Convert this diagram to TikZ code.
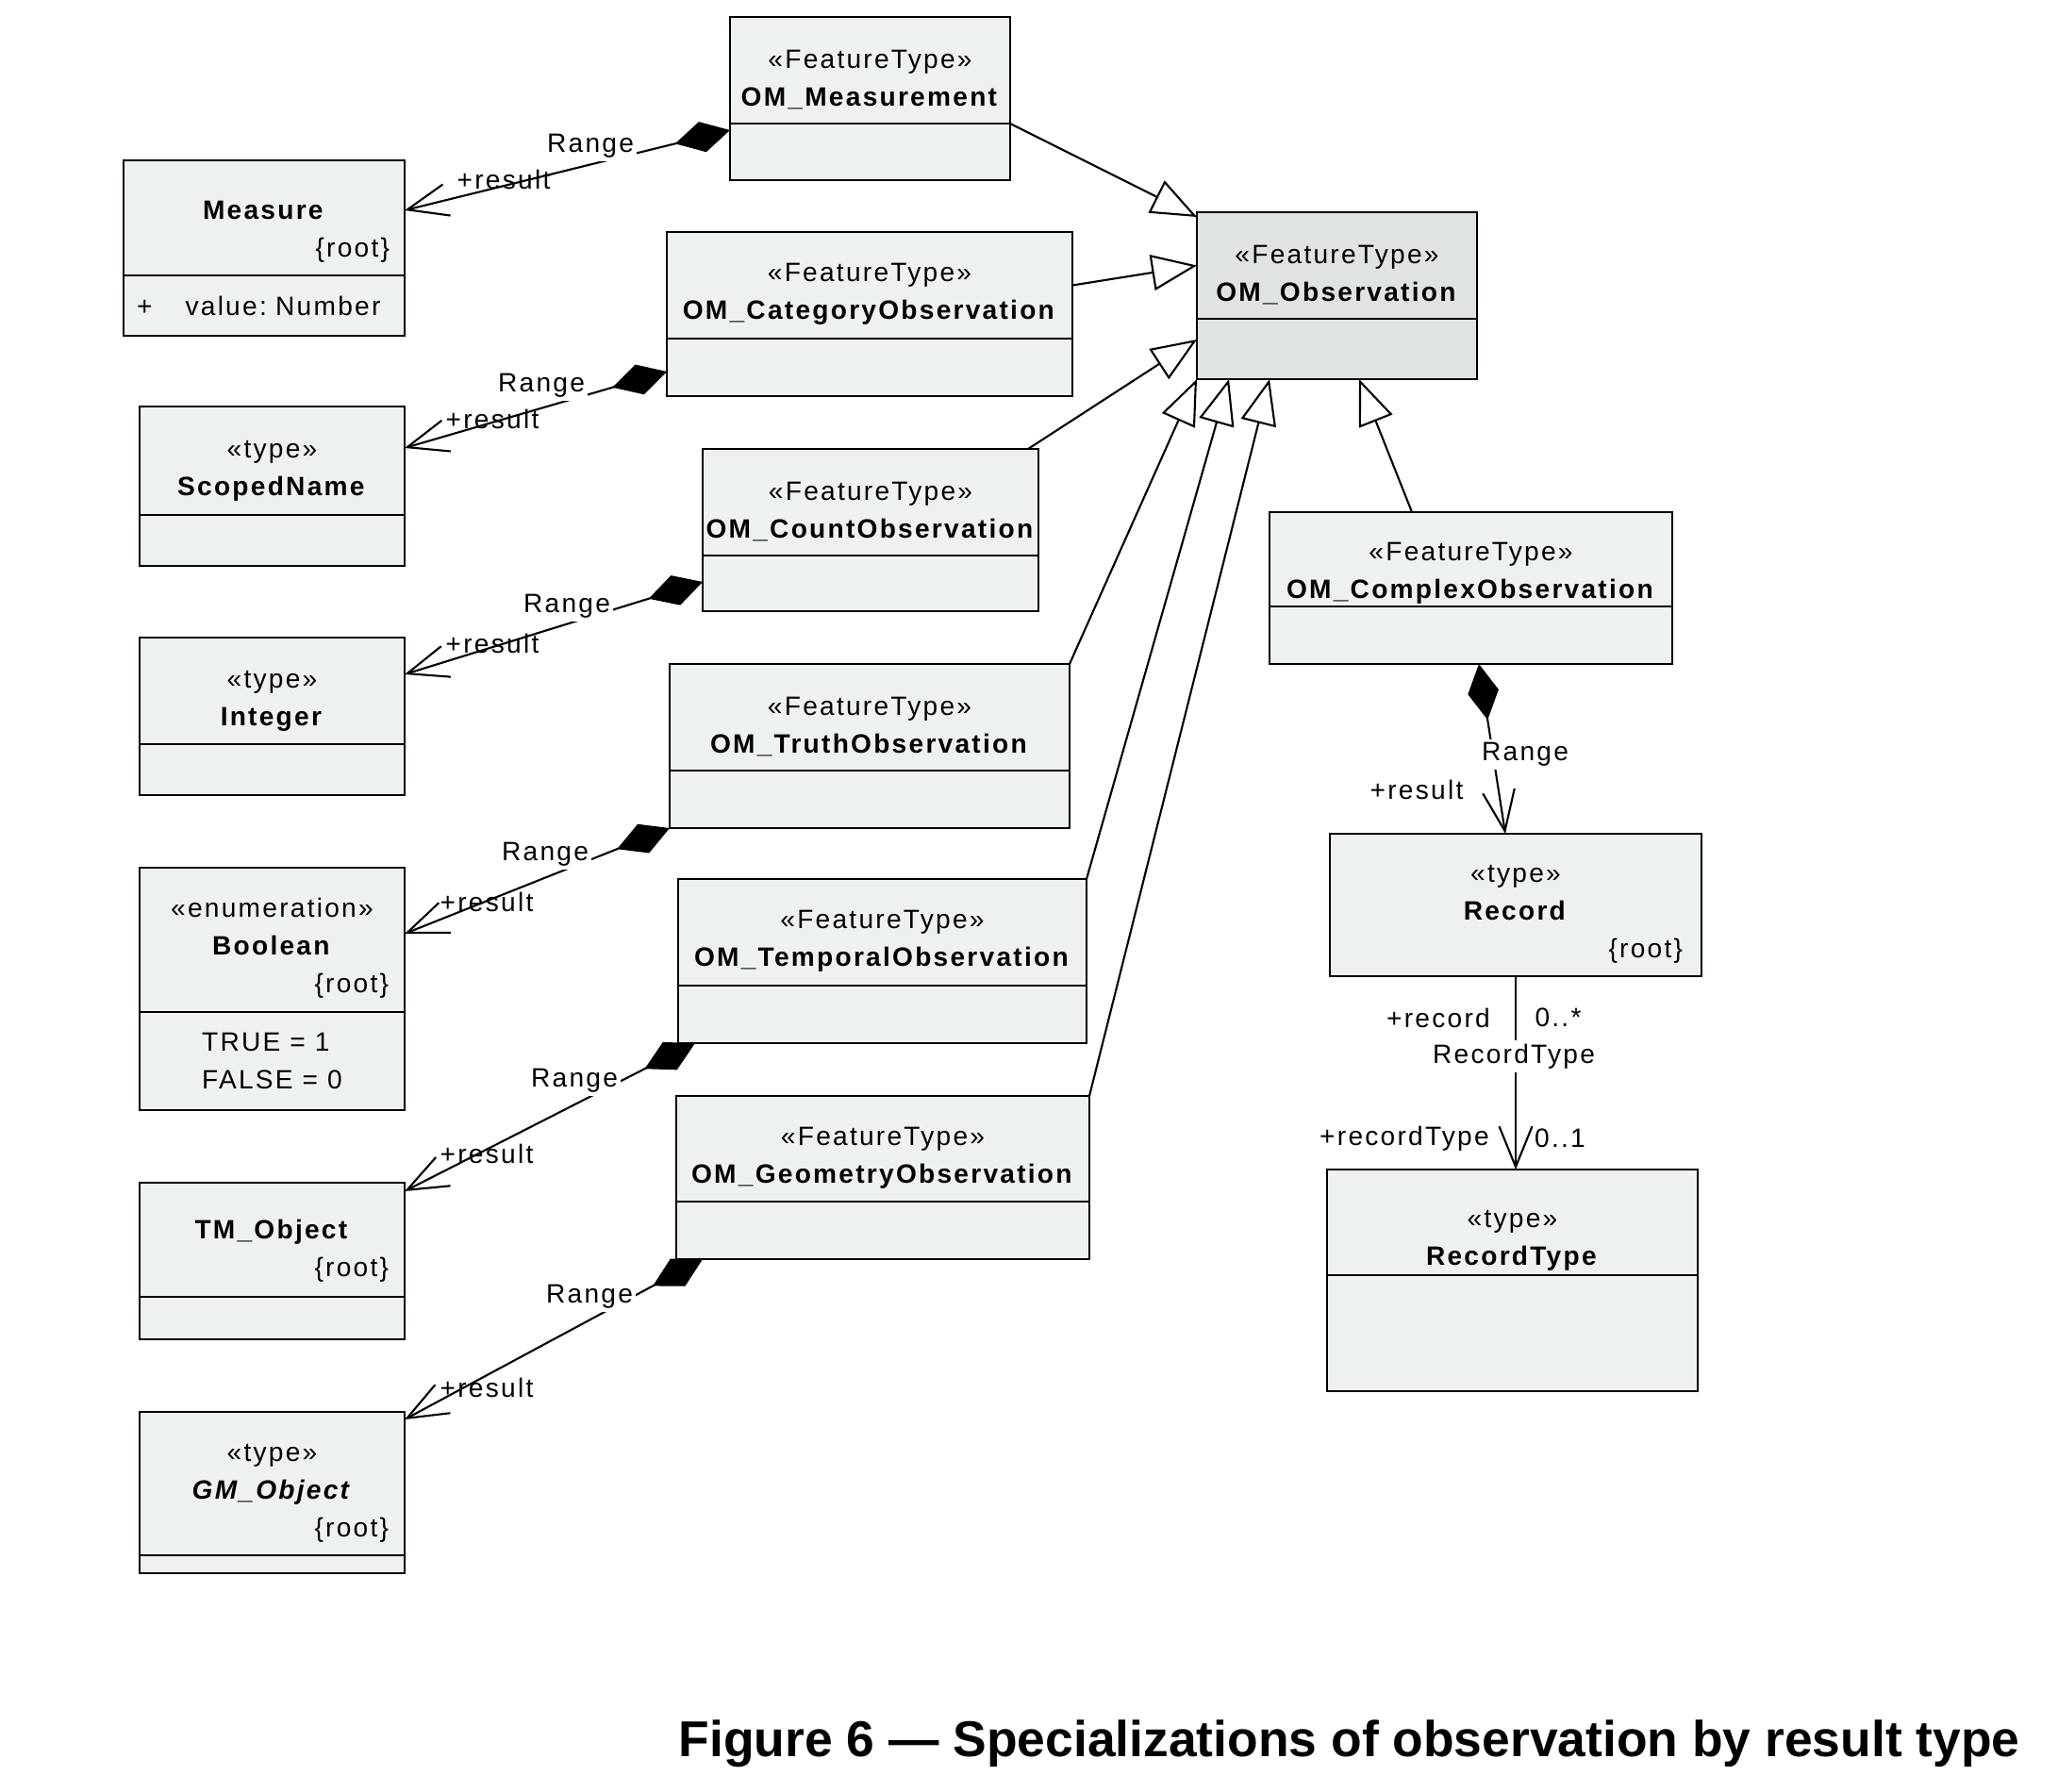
\documentclass[tikz,border=0pt]{standalone}
\usepackage{fontspec}
\setmainfont{Liberation Sans}
\newfontfamily\umlfont[LetterSpace=8]{Liberation Sans}
\usetikzlibrary{arrows.meta,positioning}
\definecolor{clsfill}{RGB}{238,241,242}
\definecolor{obsfill}{RGB}{223,227,228}

\begin{document}
\begin{tikzpicture}[y=-1cm,
cls/.style={draw,fill=clsfill,line width=0.75pt,inner sep=0pt,outer sep=0pt,align=center,font=\umlfont\fontsize{8}{11.4}\selectfont},
lift/.style={execute at begin node={\rule{0pt}{#1}}},
head/.style 2 args={cls,anchor=north west,text width=#1,minimum height=#2,lift=11pt},
part/.style n args={3}{cls,below=0pt of #1,minimum width=#2,minimum height=#3},
lbl/.style={inner sep=1pt,font=\umlfont\fontsize{8}{11.4}\selectfont},
gen/.style={line width=0.6pt,-{Triangle[length=4.8mm,width=3.8mm,fill=white]}},
comp/.style={line width=0.6pt,{Diamond[length=6mm,width=3.3mm]}-{Straight Barb[length=4.3mm,width=3.4mm]}},
nav/.style={line width=0.6pt,-{Straight Barb[length=4.3mm,width=3.5mm]}}]
\useasboundingbox (0,0) rectangle (21.82,19.00);
\node[head={2.97cm}{1.13cm}] (meash) at (7.74,0.18) {«FeatureType»\\\textbf{OM\_Measurement}};
\node[part={meash}{2.97cm}{0.60cm}] (measc) {};
\node[head={2.98cm}{1.22cm},lift=13.8pt] (measureh) at (1.31,1.70) {\textbf{Measure}\\\hskip0pt plus1filll\{root\}\kern0.16cm};
\node[part={measureh}{2.98cm}{0.64cm},text width=2.70cm,inner xsep=0.14cm,align=left] (measurec) {+\hspace{10pt}value:\ Number};
\node[head={4.30cm}{1.13cm}] (cath) at (7.07,2.46) {«FeatureType»\\\textbf{OM\_CategoryObservation}};
\node[part={cath}{4.30cm}{0.61cm}] (catc) {};
\node[head={2.97cm}{1.13cm},fill=obsfill] (obsh) at (12.69,2.25) {«FeatureType»\\\textbf{OM\_Observation}};
\node[part={obsh}{2.97cm}{0.64cm},fill=obsfill] (obsc) {};
\node[head={2.81cm}{1.15cm},lift=11.5pt] (scopedh) at (1.48,4.31) {«type»\\\textbf{ScopedName}};
\node[part={scopedh}{2.81cm}{0.54cm}] (scopedc) {};
\node[head={3.56cm}{1.13cm}] (counth) at (7.45,4.76) {«FeatureType»\\\textbf{OM\_CountObservation}};
\node[part={counth}{3.56cm}{0.59cm}] (countc) {};
\node[head={2.81cm}{1.13cm},lift=11.5pt] (integerh) at (1.48,6.76) {«type»\\\textbf{Integer}};
\node[part={integerh}{2.81cm}{0.54cm}] (integerc) {};
\node[head={4.24cm}{1.13cm}] (truthh) at (7.10,7.04) {«FeatureType»\\\textbf{OM\_TruthObservation}};
\node[part={truthh}{4.24cm}{0.61cm}] (truthc) {};
\node[head={4.27cm}{1.00cm},lift=13.8pt] (complexh) at (13.46,5.43) {«FeatureType»\\\textbf{OM\_ComplexObservation}};
\node[part={complexh}{4.27cm}{0.61cm}] (complexc) {};
\node[head={2.81cm}{1.53cm}] (booleanh) at (1.48,9.20) {«enumeration»\\\textbf{Boolean}\\\hskip0pt plus1filll\{root\}\kern0.17cm};
\node[part={booleanh}{2.81cm}{1.04cm},align=left] (booleanc) {TRUE = 1\\FALSE = 0};
\node[head={4.33cm}{1.13cm}] (tempoh) at (7.19,9.32) {«FeatureType»\\\textbf{OM\_TemporalObservation}};
\node[part={tempoh}{4.33cm}{0.61cm}] (tempoc) {};
\node[head={3.94cm}{1.51cm}] (recordh) at (14.10,8.84) {«type»\\\textbf{Record}\\\hskip0pt plus1filll\{root\}\kern0.20cm};
\node[head={3.93cm}{1.12cm},lift=16.4pt] (rtypeh) at (14.07,12.40) {«type»\\\textbf{RecordType}};
\node[part={rtypeh}{3.93cm}{1.23cm}] (rtypec) {};
\node[head={4.38cm}{1.12cm}] (geomh) at (7.17,11.62) {«FeatureType»\\\textbf{OM\_GeometryObservation}};
\node[part={geomh}{4.38cm}{0.61cm}] (geomc) {};
\node[head={2.81cm}{1.21cm},lift=12.6pt] (tmobjh) at (1.48,12.54) {\textbf{TM\_Object}\\\hskip0pt plus1filll\{root\}\kern0.17cm};
\node[part={tmobjh}{2.81cm}{0.45cm}] (tmobjc) {};
\node[head={2.81cm}{1.52cm}] (gmobjh) at (1.48,14.97) {«type»\\\textbf{\textit{GM\_Object}}\\\hskip0pt plus1filll\{root\}\kern0.17cm};
\node[part={gmobjh}{2.81cm}{0.19cm}] (gmobjc) {};
\draw[gen] (meash.south east) -- ([yshift=-0.05cm]obsh.north west);
\draw[gen] (cath.east) -- (obsh.west);
\draw[gen] ([xshift=-0.11cm]counth.north east) -- ([yshift=0.1cm]obsc.west);
\draw[gen] (truthh.north east) -- (obsc.south west);
\draw[gen] (tempoh.north east) -- ([xshift=0.34cm]obsc.south west);
\draw[gen] (geomh.north east) -- ([xshift=0.77cm]obsc.south west);
\draw[gen] ([xshift=1.51cm]complexh.north west) -- ([xshift=1.72cm]obsc.south west);
\draw[comp] ([yshift=-0.07cm]measc.north west) -- ([yshift=-0.53cm]measureh.north east);
\draw[comp] ([yshift=-0.35cm]catc.north west) -- ([yshift=-0.44cm]scopedh.north east);
\draw[comp] ([yshift=-0.28cm]countc.north west) -- ([yshift=-0.39cm]integerh.north east);
\draw[comp] (truthc.south west) -- ([yshift=-0.70cm]booleanh.north east);
\draw[comp] ([xshift=0.18cm]tempoc.south west) -- ([yshift=-0.09cm]tmobjh.north east);
\draw[comp] ([xshift=0.28cm]geomc.south west) -- ([yshift=-0.08cm]gmobjh.north east);
\draw[comp] ([xshift=2.22cm]complexc.south west) -- ([xshift=1.86cm]recordh.north west);
\draw[nav] (recordh.south) -- (recordh.south |- rtypeh.north);
\node[lbl,fill=white] (rg1) at (6.26,1.55) {Range};
\node[lbl] (rs1) at (5.34,1.90) {+result};
\node[lbl,fill=white] (rg2) at (5.74,4.09) {Range};
\node[lbl] (rs2) at (5.22,4.44) {+result};
\node[lbl,fill=white] (rg3) at (6.01,6.43) {Range};
\node[lbl] (rs3) at (5.22,6.82) {+result};
\node[lbl,fill=white] (rg4) at (5.78,9.06) {Range};
\node[lbl] (rs4) at (5.16,9.56) {+result};
\node[lbl,fill=white] (rg5) at (6.09,11.46) {Range};
\node[lbl] (rs5) at (5.16,12.23) {+result};
\node[lbl,fill=white] (rg6) at (6.25,13.75) {Range};
\node[lbl] (rs6) at (5.16,14.71) {+result};
\node[lbl,fill=white] (rg7) at (16.17,8.00) {Range};
\node[lbl] (rs7) at (15.02,8.37) {+result};
\node[lbl] (rec) at (15.25,10.79) {+record};
\node[lbl] (recm) at (16.52,10.79) {0..*};
\node[lbl,fill=white] (recname) at (16.05,11.20) {RecordType};
\node[lbl] (rtp) at (14.89,12.07) {+recordType};
\node[lbl] (rtpm) at (16.54,12.07) {0..1};
\node[anchor=base west,inner sep=0pt,font=\bfseries\fontsize{15.2}{18}\selectfont] (caption) at (7.19,18.62) {Figure 6 — Specializations of observation by result type};
\end{tikzpicture}
\end{document}
